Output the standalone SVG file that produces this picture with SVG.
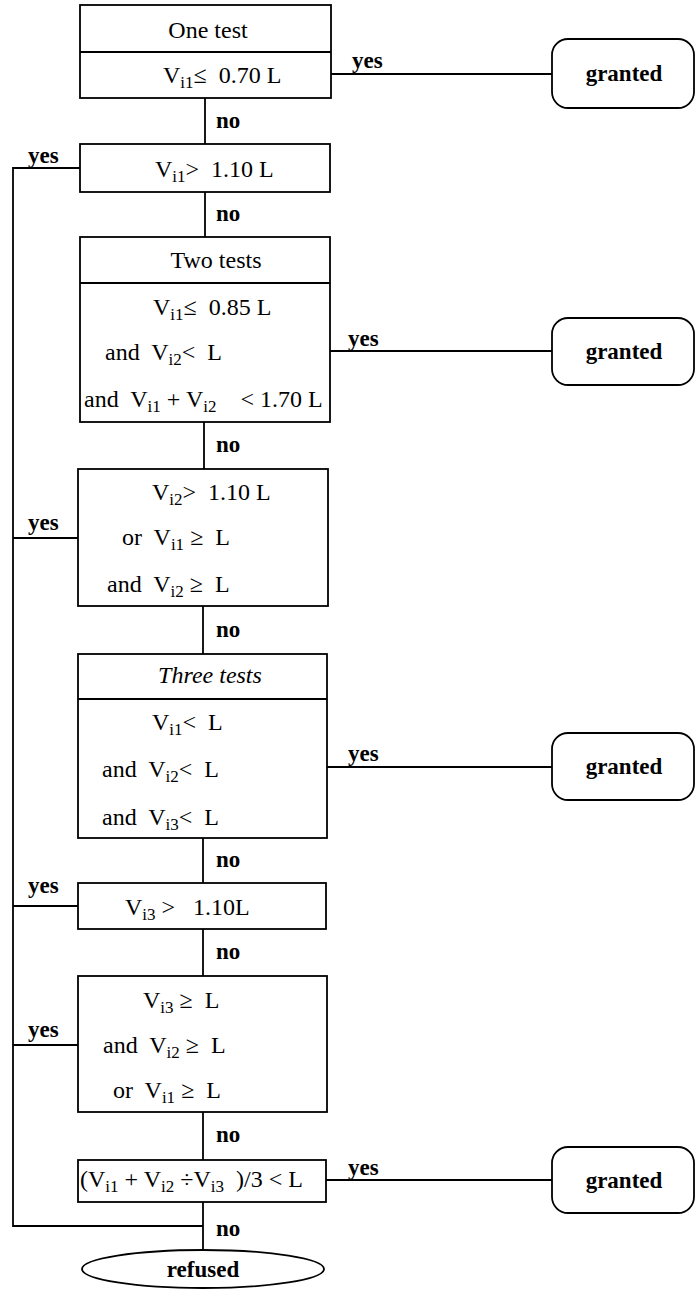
<svg xmlns="http://www.w3.org/2000/svg" width="696" height="1290" viewBox="0 0 696 1290">
<style>
.box{fill:none;stroke:#000;stroke-width:1.8}
.c{fill:none;stroke:#000;stroke-width:1.8}
.t{font-family:"Liberation Serif","Times New Roman",serif;font-size:24px;fill:#000;white-space:pre}
.s{font-size:17px}
.l{font-family:"Liberation Serif","Times New Roman",serif;font-size:23px;font-weight:bold;fill:#000}
.m{text-anchor:middle}
</style>
<rect width="696" height="1290" fill="#fff"/>
<g id="connectors">
<path class="c" d="M205 98V144M205 192V237M204 422V469M203 606V654M203 838V883M203 929V976M203 1112V1160M203 1202V1250"/>
<path class="c" d="M331 74H552M330 351H552M327 767H552M326 1180H552"/>
<path class="c" d="M80 168H13V1226H203M78 538H13M78 906H13M78 1045H13"/>
<g class="l">
<text x="216" y="128">no</text>
<text x="216" y="221">no</text>
<text x="216" y="452">no</text>
<text x="216" y="637">no</text>
<text x="216" y="867">no</text>
<text x="216" y="959">no</text>
<text x="216" y="1142">no</text>
<text x="216" y="1236">no</text>
<text x="28" y="163">yes</text>
<text x="28" y="530">yes</text>
<text x="28" y="893">yes</text>
<text x="28" y="1037">yes</text>
<text x="352" y="68">yes</text>
<text x="348" y="346">yes</text>
<text x="348" y="761">yes</text>
<text x="348" y="1175">yes</text>
</g>
</g>
<g id="one-test">
<rect class="box" x="80" y="5" width="251" height="93"/>
<line class="c" x1="80" y1="52" x2="331" y2="52"/>
<text class="t m" x="208" y="38">One test</text>
<text class="t" x="163" y="83">V<tspan class="s" dy="5">i1</tspan><tspan dy="-5">≤&#160; 0.70 L</tspan></text>
</g>
<g id="test-v1-high">
<rect class="box" x="80" y="144" width="250" height="48"/>
<text class="t" x="155" y="177">V<tspan class="s" dy="5">i1</tspan><tspan dy="-5">&gt;&#160; 1.10 L</tspan></text>
</g>
<g id="two-tests">
<rect class="box" x="80" y="237" width="250" height="185"/>
<line class="c" x1="80" y1="283" x2="330" y2="283"/>
<text class="t m" x="216" y="268">Two tests</text>
<text class="t" x="153" y="315">V<tspan class="s" dy="5">i1</tspan><tspan dy="-5">≤&#160; 0.85 L</tspan></text>
<text class="t" x="105" y="360">and&#160; V<tspan class="s" dy="5">i2</tspan><tspan dy="-5">&lt;&#160; L</tspan></text>
<text class="t" x="84" y="407">and&#160; V<tspan class="s" dy="5">i1</tspan><tspan dy="-5"> + V</tspan><tspan class="s" dy="5">i2</tspan><tspan dy="-5">&#160;&#160;&#160;&#160;&lt; 1.70 L</tspan></text>
</g>
<g id="test-v2-high">
<rect class="box" x="78" y="469" width="250" height="137"/>
<text class="t" x="152" y="500">V<tspan class="s" dy="5">i2</tspan><tspan dy="-5">&gt;&#160; 1.10 L</tspan></text>
<text class="t" x="122" y="545">or&#160; V<tspan class="s" dy="5">i1</tspan><tspan dy="-5"> ≥&#160; L</tspan></text>
<text class="t" x="107" y="592">and&#160; V<tspan class="s" dy="5">i2</tspan><tspan dy="-5"> ≥&#160; L</tspan></text>
</g>
<g id="three-tests">
<rect class="box" x="78" y="654" width="249" height="184"/>
<line class="c" x1="78" y1="699" x2="327" y2="699"/>
<text class="t m" x="210" y="683" font-style="italic">Three tests</text>
<text class="t" x="152" y="730">V<tspan class="s" dy="5">i1</tspan><tspan dy="-5">&lt;&#160; L</tspan></text>
<text class="t" x="102" y="777">and&#160; V<tspan class="s" dy="5">i2</tspan><tspan dy="-5">&lt;&#160; L</tspan></text>
<text class="t" x="102" y="825">and&#160; V<tspan class="s" dy="5">i3</tspan><tspan dy="-5">&lt;&#160; L</tspan></text>
</g>
<g id="test-v3-high">
<rect class="box" x="78" y="883" width="248" height="46"/>
<text class="t" x="125" y="915">V<tspan class="s" dy="5">i3</tspan><tspan dy="-5"> &gt;&#160;&#160; 1.10L</tspan></text>
</g>
<g id="test-v3-limit">
<rect class="box" x="78" y="976" width="249" height="136"/>
<text class="t" x="143" y="1008">V<tspan class="s" dy="5">i3</tspan><tspan dy="-5"> ≥&#160; L</tspan></text>
<text class="t" x="103" y="1053">and&#160; V<tspan class="s" dy="5">i2</tspan><tspan dy="-5"> ≥&#160; L</tspan></text>
<text class="t" x="113" y="1098">or&#160; V<tspan class="s" dy="5">i1</tspan><tspan dy="-5"> ≥&#160; L</tspan></text>
</g>
<g id="test-mean">
<rect class="box" x="78" y="1160" width="248" height="42"/>
<text class="t" x="80" y="1187">(V<tspan class="s" dy="5">i1</tspan><tspan dy="-5"> + V</tspan><tspan class="s" dy="5">i2</tspan><tspan dy="-5"> ÷V</tspan><tspan class="s" dy="5">i3</tspan><tspan dy="-5">&#160; )/3 &lt; L</tspan></text>
</g>
<g id="refused">
<ellipse class="box" cx="203" cy="1269" rx="121" ry="19"/>
<text class="l m" x="203" y="1277">refused</text>
</g>
<g id="granted-1">
<rect class="box" x="552" y="39" width="142" height="69" rx="16"/>
<text class="l m" x="624" y="81">granted</text>
</g>
<g id="granted-2">
<rect class="box" x="552" y="318" width="142" height="67" rx="16"/>
<text class="l m" x="624" y="359">granted</text>
</g>
<g id="granted-3">
<rect class="box" x="552" y="733" width="142" height="67" rx="16"/>
<text class="l m" x="624" y="774">granted</text>
</g>
<g id="granted-4">
<rect class="box" x="552" y="1147" width="142" height="66" rx="16"/>
<text class="l m" x="624" y="1188">granted</text>
</g>
</svg>
